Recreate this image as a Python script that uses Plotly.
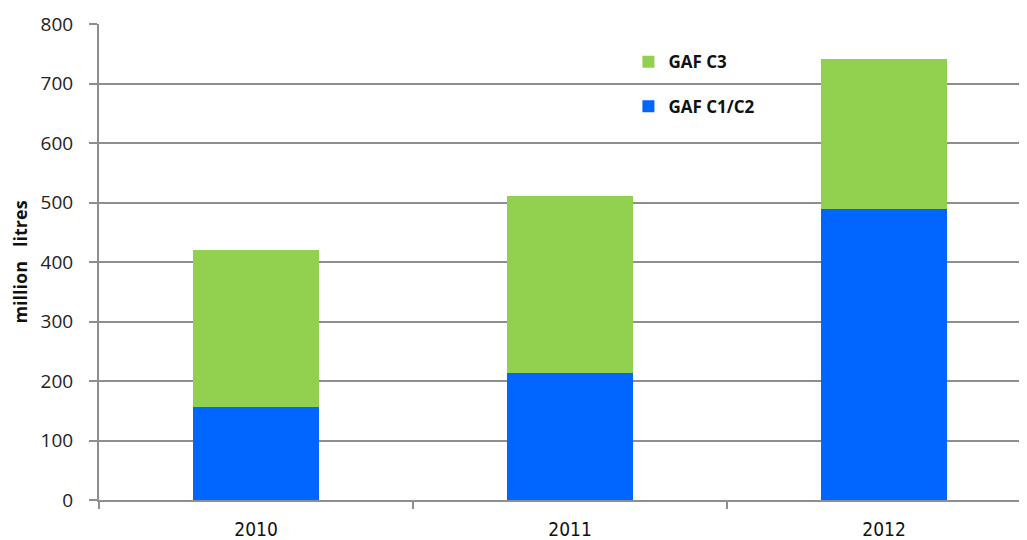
import plotly.graph_objects as go

years = ["2010", "2011", "2012"]
gaf_c1c2 = [157, 213, 489]
gaf_c3_total = [421, 511, 741]
gaf_c3 = [t - b for t, b in zip(gaf_c3_total, gaf_c1c2)]

y_ticks = [0, 100, 200, 300, 400, 500, 600, 700, 800]

grid = "#8e8e8e"

fig = go.Figure()
fig.add_trace(go.Bar(x=years, y=gaf_c1c2, name="<b>GAF C1/C2</b>",
                     marker=dict(color="#0066FF", line=dict(width=0)),
                     legend="legend2"))
fig.add_trace(go.Bar(x=years, y=gaf_c3, name="<b>GAF C3</b>",
                     marker=dict(color="#92D050", line=dict(width=0)),
                     legend="legend"))

legend_font = dict(family="Open Sans", size=17, color="#111")

# page has an 8px body margin, so the figure is sized to fit the 1027x540 view
fig.update_layout(
    width=1019, height=532,
    barmode="stack", bargap=0.6,
    plot_bgcolor="white", paper_bgcolor="white",
    margin=dict(l=91, r=0, t=16, b=40),
    showlegend=True,
    legend=dict(x=0.5705, y=0.920, xanchor="left", yanchor="middle",
                bgcolor="rgba(0,0,0,0)", font=legend_font, itemclick=False),
    legend2=dict(x=0.5705, y=0.826, xanchor="left", yanchor="middle",
                 bgcolor="rgba(0,0,0,0)", font=legend_font, itemclick=False),
    xaxis=dict(range=[-0.5, 2.455], showgrid=False, showline=True,
               linecolor=grid, linewidth=2, ticks="outside",
               tickson="boundaries", ticklen=7, tickwidth=2, tickcolor=grid,
               automargin=False, ticklabelstandoff=11,
               tickfont=dict(family="DejaVu Sans Condensed", size=19, color="#111")),
    yaxis=dict(range=[0, 800], tickvals=y_ticks, showgrid=True,
               gridcolor=grid, gridwidth=2, zeroline=False,
               showline=True, linecolor=grid, linewidth=2,
               ticks="outside", ticklen=8, tickwidth=2, tickcolor=grid,
               automargin=False, ticklabelstandoff=12,
               tickfont=dict(family="Open Sans", size=19, color="#222"),
               title=dict(text="<b>million   litres</b>",
                          font=dict(family="Open Sans", size=18, color="#111"),
                          standoff=8)),
)

fig.write_html("out.html")
